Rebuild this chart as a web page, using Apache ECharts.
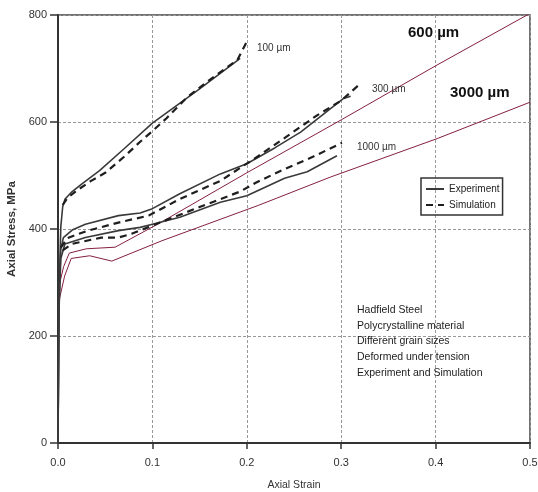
<!DOCTYPE html>
<html>
<head>
<meta charset="utf-8">
<script src="https://cdn.jsdelivr.net/npm/echarts@6/dist/echarts.min.js"></script>
<style>
    html, body { margin: 0; padding: 0; background: #fff; }
    #main { width: 538px; height: 492px; }
</style>
</head>
<body>
<div id="main"></div>
<script>
    // tick labels
    var xTicks = [0, 0.1, 0.2, 0.3, 0.4, 0.5];
    var yTicks = [0, 200, 400, 600, 800];

    // [strain, stress MPa]
    var exp100 = [[0,0],[0.001,220],[0.002,340],[0.003,405],[0.005,442],[0.0075,456],[0.015,470],[0.025,484],[0.044,509],[0.07,550],[0.1,598],[0.15,662],[0.193,719]];
    var sim100 = [[0.005,445],[0.01,458],[0.02,472],[0.035,490],[0.05,505],[0.07,535],[0.087,563],[0.1,583],[0.115,607],[0.136,645],[0.16,678],[0.19,716],[0.2,750]];
    var exp300 = [[0,0],[0.001,260],[0.003,362],[0.0057,384],[0.015,398],[0.029,409],[0.064,425],[0.087,430],[0.1,438],[0.129,466],[0.172,503],[0.2,522],[0.23,552],[0.257,581],[0.3025,644],[0.31,648]];
    var sim300 = [[0.003,365],[0.01,383],[0.03,396],[0.064,412],[0.096,425],[0.129,456],[0.172,490],[0.212,536],[0.244,575],[0.274,612],[0.3,640],[0.3185,669]];
    var exp1000 = [[0,0],[0.001,250],[0.003,345],[0.0073,372],[0.029,384],[0.064,397],[0.087,403],[0.1,409],[0.129,422],[0.172,450],[0.2,462],[0.24,495],[0.264,507],[0.2955,537]];
    var sim1000 = [[0.005,360],[0.0145,372],[0.046,384],[0.064,384],[0.078,391],[0.108,412],[0.15,441],[0.193,470],[0.21,487],[0.235,508],[0.27,535],[0.3008,561]];
    var sim600 = [[0.002,300],[0.006,330],[0.012,355],[0.03,363],[0.0605,366],[0.1066,410],[0.2,505],[0.3,604],[0.4,705],[0.5,803]];
    var sim3000 = [[0.001,265],[0.007,312],[0.014,345],[0.0336,350],[0.057,340],[0.11,378],[0.212,444],[0.2885,497],[0.4017,569],[0.5,637]];

    var grainLabels = [
        { text: '100 µm', x: 257, y: 48 },
        { text: '300 µm', x: 372, y: 89 },
        { text: '1000 µm', x: 357, y: 147 }
    ];
    var boldLabels = [
        { text: '600 µm', x: 408, y: 33 },
        { text: '3000 µm', x: 450, y: 93 }
    ];
    var noteLines = ['Hadfield Steel', 'Polycrystalline material', 'Different grain sizes', 'Deformed under tension', 'Experiment and Simulation'];

    var myChart = echarts.init(document.getElementById('main'));

    function expLine(data) {
        return {
            name: 'Experiment', type: 'line', data: data, symbol: 'none', z: 4,
            lineStyle: { color: '#3a3a3a', width: 1.6 }, itemStyle: { color: '#3a3a3a' }
        };
    }
    function simLine(data) {
        return {
            name: 'Simulation', type: 'line', data: data, symbol: 'none', z: 5,
            lineStyle: { color: '#1e1e1e', width: 2.2, type: [7, 5] }, itemStyle: { color: '#1e1e1e' }
        };
    }
    function redLine(name, data) {
        return {
            name: name, type: 'line', data: data, symbol: 'none', z: 3,
            lineStyle: { color: '#84203f', width: 1 }, itemStyle: { color: '#84203f' }
        };
    }

    var graphics = [];
    grainLabels.forEach(function (l) {
        graphics.push({ type: 'text', x: l.x, y: l.y, z: 10,
            style: { text: l.text, font: '10px "Liberation Sans"', fill: '#333', verticalAlign: 'middle' } });
    });
    boldLabels.forEach(function (l) {
        graphics.push({ type: 'text', x: l.x, y: l.y, z: 10,
            style: { text: l.text, font: 'bold 15px "Liberation Sans"', fill: '#111', verticalAlign: 'middle' } });
    });
    noteLines.forEach(function (t, i) {
        graphics.push({ type: 'text', x: 357, y: 310 + i * 15.7, z: 10,
            style: { text: t, font: '10.5px "Liberation Sans"', fill: '#222', verticalAlign: 'middle' } });
    });

    var option = {
        animation: false,
        backgroundColor: '#fff',
        grid: {
            left: 58, right: 8, top: 15, bottom: 49,
            outerBoundsMode: 'none', containLabel: false,
            show: true, borderColor: '#444', borderWidth: 1.5
        },
        legend: {
            data: ['Experiment', 'Simulation'],
            orient: 'vertical',
            left: 421, top: 178,
            itemWidth: 18, itemHeight: 10, itemGap: 6,
            padding: [6, 3, 5, 4],
            itemStyle: { opacity: 0 },
            borderColor: '#333', borderWidth: 1.5,
            textStyle: { fontSize: 10, color: '#222', fontFamily: 'Liberation Sans' }
        },
        xAxis: {
            type: 'value', min: xTicks[0], max: xTicks[xTicks.length - 1], interval: 0.1,
            name: 'Axial Strain', nameLocation: 'middle', nameGap: 37,
            nameTextStyle: { fontSize: 10.5, color: '#333', fontFamily: 'Liberation Sans' },
            axisLine: { lineStyle: { color: '#333', width: 2 } },
            axisTick: { show: true, length: 6, lineStyle: { color: '#333', width: 1.5 } },
            axisLabel: { margin: 14, fontSize: 11, color: '#333', fontFamily: 'Liberation Sans',
                formatter: function (v) { return v.toFixed(1); } },
            splitLine: { show: true, lineStyle: { color: '#999', type: [3, 2], width: 1 } }
        },
        yAxis: {
            type: 'value', min: yTicks[0], max: yTicks[yTicks.length - 1], interval: 200,
            name: 'Axial Stress, MPa', nameLocation: 'middle', nameGap: 40, nameRotate: 90,
            nameTextStyle: { fontSize: 11.5, fontWeight: 'bold', color: '#333', fontFamily: 'Liberation Sans' },
            axisLine: { show: true, lineStyle: { color: '#333', width: 2 } },
            axisTick: { show: true, length: 8, lineStyle: { color: '#333', width: 1.5 } },
            axisLabel: { margin: 11, fontSize: 11, color: '#333', fontFamily: 'Liberation Sans' },
            splitLine: { show: true, lineStyle: { color: '#999', type: [3, 2], width: 1 } }
        },
        graphic: graphics,
        series: [
            expLine(exp100), simLine(sim100),
            expLine(exp300), simLine(sim300),
            expLine(exp1000), simLine(sim1000),
            redLine('600 µm', sim600), redLine('3000 µm', sim3000)
        ]
    };

    myChart.setOption(option);
</script>
</body>
</html>
